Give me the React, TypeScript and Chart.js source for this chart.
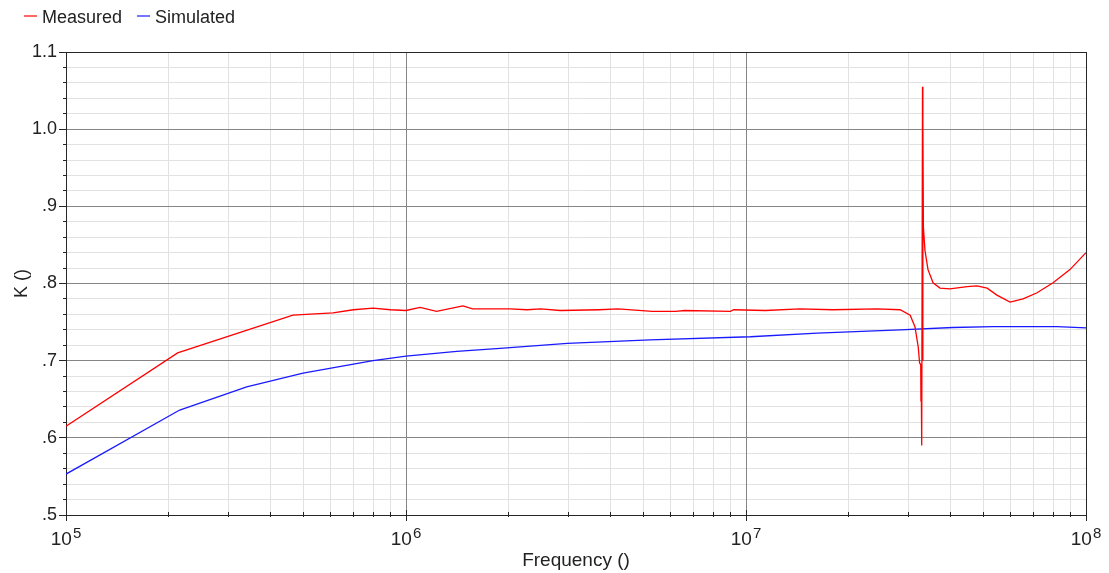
import React, { useEffect, useRef } from 'react';
import { Chart, registerables } from 'chart.js';

Chart.register(...registerables);

// ---------- data ----------
const seriesLabels = ['Measured', 'Simulated'];
const seriesColors = ['#ff0000', '#1a1aff'];

const measuredFreq = [
  1e5, 2.13e5, 4.65e5, 6.1e5, 7.0e5, 8.0e5, 9.0e5, 1.0e6, 1.1e6, 1.23e6, 1.47e6, 1.57e6,
  2.02e6, 2.27e6, 2.49e6, 2.84e6, 3.7e6, 4.2e6, 5.3e6, 6.2e6, 6.6e6, 9.0e6, 9.2e6,
  1.14e7, 1.44e7, 1.8e7, 2.43e7, 2.84e7, 3.04e7, 3.14e7, 3.21e7, 3.24e7,
  3.265e7, 3.27e7, 3.275e7, 3.287e7, 3.305e7, 3.31e7, 3.315e7, 3.325e7,
  3.36e7, 3.43e7, 3.55e7, 3.72e7, 3.98e7, 4.47e7, 4.78e7, 5.12e7, 5.47e7, 5.98e7,
  6.53e7, 7.18e7, 8.0e7, 8.97e7, 1e8,
];
const measuredK = [
  0.615, 0.710, 0.759, 0.762, 0.766, 0.768, 0.766, 0.765, 0.769, 0.764, 0.771, 0.767,
  0.767, 0.766, 0.767, 0.765, 0.766, 0.767, 0.764, 0.764, 0.765, 0.764, 0.766,
  0.765, 0.767, 0.766, 0.767, 0.766, 0.759, 0.744, 0.718, 0.697,
  0.695, 0.647, 0.690, 0.590, 1.055, 0.700, 1.012, 0.873,
  0.843, 0.818, 0.801, 0.794, 0.793, 0.796, 0.797, 0.794, 0.785, 0.776,
  0.780, 0.788, 0.801, 0.818, 0.840,
];

const simulatedFreq = [
  1e5, 2.16e5, 3.4e5, 4.98e5, 8.0e5, 1.0e6, 1.41e6, 1.89e6, 2.98e6, 5.22e6,
  1.03e7, 1.62e7, 2.84e7, 4.06e7, 5.32e7, 8.22e7, 1e8,
];
const simulatedK = [
  0.553, 0.636, 0.666, 0.684, 0.700, 0.706, 0.712, 0.716, 0.7225, 0.727,
  0.731, 0.7356, 0.740, 0.743, 0.744, 0.744, 0.7425,
];

// axis ticks
const xDecades = [1e5, 1e6, 1e7, 1e8];
const xExponents = ['5', '6', '7', '8'];
const xMinorMultipliers = [1, 2, 3, 4, 5, 6, 7, 8, 9];
const yMin = 0.5;
const yMax = 1.1;
const yStep = 0.02;
const xTitle = 'Frequency ()';
const yTitle = 'K ()';

const FONT = '"Liberation Sans", Arial, sans-serif';
const TEXT = '#222222';
const MAJOR_GRID = '#858585';
const MINOR_GRID = '#e2e2e2';
const AXIS = '#262626';

const isDecade = (v: number) => Math.abs(Math.log10(v) - Math.round(Math.log10(v))) < 1e-9;
const isYMajor = (v: number) => Math.round(v * 100) % 10 === 0;

const xTickValues: number[] = [];
for (let i = 0; i < xDecades.length - 1; i++) {
  for (const m of xMinorMultipliers) xTickValues.push(m * xDecades[i]);
}
xTickValues.push(xDecades[xDecades.length - 1]);

const yLabel = (v: number) => {
  const c = Math.round(v * 100);
  if (c % 10 !== 0) return '';
  if (c >= 100) return (c / 100).toFixed(1);
  return '.' + String(c / 10);
};

const align = (p: number) => Math.round(p - 0.5) + 0.5;

// draws the major grid lines and the frame above the light minor grid
const majorGridPlugin = {
  id: 'majorGrid',
  beforeDatasetsDraw(chart: any) {
    const { ctx, chartArea: ca } = chart;
    const xs = chart.scales.x;
    const ys = chart.scales.y;
    ctx.save();
    ctx.lineWidth = 1;
    ctx.strokeStyle = MAJOR_GRID;
    ctx.beginPath();
    ys.ticks.forEach((t: any) => {
      if (!isYMajor(t.value)) return;
      const py = align(ys.getPixelForValue(t.value));
      ctx.moveTo(ca.left, py);
      ctx.lineTo(ca.right, py);
    });
    xs.ticks.forEach((t: any) => {
      if (!isDecade(t.value)) return;
      const px = align(xs.getPixelForValue(t.value));
      ctx.moveTo(px, ca.top);
      ctx.lineTo(px, ca.bottom);
    });
    ctx.stroke();
    ctx.strokeStyle = AXIS;
    ctx.strokeRect(align(ca.left), align(ca.top), Math.round(ca.right - ca.left), Math.round(ca.bottom - ca.top));
    ctx.restore();
  },
};

const decorPlugin = {
  id: 'decor',
  afterDraw(chart: any) {
    const { ctx, chartArea: ca } = chart;
    const xs = chart.scales.x;
    const ys = chart.scales.y;
    ctx.save();
    // tick marks
    ctx.strokeStyle = AXIS;
    ctx.lineWidth = 1;
    ctx.beginPath();
    xs.ticks.forEach((t: any) => {
      const px = align(xs.getPixelForValue(t.value));
      const major = isDecade(t.value);
      ctx.moveTo(px, ca.bottom - (major ? 5 : 3));
      ctx.lineTo(px, ca.bottom + (major ? 6 : 2));
    });
    ys.ticks.forEach((t: any) => {
      const py = align(ys.getPixelForValue(t.value));
      const major = isYMajor(t.value);
      ctx.moveTo(ca.left - (major ? 7 : 3), py);
      ctx.lineTo(ca.left, py);
    });
    ctx.stroke();

    // x decade labels with superscript exponents
    ctx.fillStyle = TEXT;
    ctx.textBaseline = 'alphabetic';
    ctx.textAlign = 'left';
    xDecades.forEach((v, i) => {
      const px = xs.getPixelForValue(v);
      ctx.font = `19px ${FONT}`;
      const wBase = ctx.measureText('10').width;
      ctx.font = `15px ${FONT}`;
      const wExp = ctx.measureText(xExponents[i]).width;
      const start = px - (wBase + wExp + 1) / 2;
      ctx.font = `19px ${FONT}`;
      ctx.fillText('10', start, ca.bottom + 30);
      ctx.font = `15px ${FONT}`;
      ctx.fillText(xExponents[i], start + wBase + 1, ca.bottom + 23);
    });

    // legend
    let x = 24;
    const ly = 16;
    chart.data.datasets.forEach((ds: any) => {
      ctx.strokeStyle = ds.borderColor;
      ctx.lineWidth = 1.5;
      ctx.globalAlpha = 0.8;
      ctx.beginPath();
      ctx.moveTo(x, ly);
      ctx.lineTo(x + 13, ly);
      ctx.stroke();
      ctx.globalAlpha = 1;
      ctx.font = `18px ${FONT}`;
      ctx.fillStyle = TEXT;
      ctx.fillText(ds.label, x + 18, 23);
      x += 18 + ctx.measureText(ds.label).width + 15;
    });
    ctx.restore();
  },
};

export default function App() {
  const canvasRef = useRef<HTMLCanvasElement | null>(null);

  useEffect(() => {
    document.body.style.margin = '0';
    const canvas = canvasRef.current;
    if (!canvas) return;
    const chart = new Chart(canvas, {
      type: 'line',
      data: {
        datasets: [
          {
            label: seriesLabels[0],
            data: measuredFreq.map((f, i) => ({ x: f, y: measuredK[i] })),
            borderColor: seriesColors[0],
            backgroundColor: seriesColors[0],
            borderWidth: 1.3,
            pointRadius: 0,
            tension: 0,
          },
          {
            label: seriesLabels[1],
            data: simulatedFreq.map((f, i) => ({ x: f, y: simulatedK[i] })),
            borderColor: seriesColors[1],
            backgroundColor: seriesColors[1],
            borderWidth: 1.3,
            pointRadius: 0,
            tension: 0,
          },
        ],
      },
      options: {
        responsive: false,
        animation: false,
        devicePixelRatio: 1,
        layout: { padding: { top: 52, right: 23, left: 0, bottom: 0 } },
        plugins: {
          legend: { display: false },
          tooltip: { enabled: false },
        },
        scales: {
          x: {
            type: 'logarithmic',
            min: xDecades[0],
            max: xDecades[xDecades.length - 1],
            afterBuildTicks: (scale: any) => {
              scale.ticks = xTickValues.map((v) => ({ value: v }));
            },
            afterFit: (scale: any) => {
              scale.height = 58;
            },
            ticks: { autoSkip: false, maxRotation: 0, callback: () => '' },
            grid: { drawTicks: false, color: MINOR_GRID },
            border: { display: true, color: AXIS, width: 1 },
            title: {
              display: true,
              text: xTitle,
              color: TEXT,
              font: { family: FONT, size: 19 },
              padding: { top: 0, bottom: 1 },
            },
          },
          y: {
            type: 'linear',
            min: yMin,
            max: yMax,
            afterFit: (scale: any) => {
              scale.width = 66;
            },
            ticks: {
              stepSize: yStep,
              autoSkip: false,
              padding: 9,
              color: TEXT,
              font: { family: FONT, size: 18 },
              callback: (v: any) => yLabel(Number(v)),
            },
            grid: { drawTicks: false, color: MINOR_GRID },
            border: { display: true, color: AXIS, width: 1 },
            title: {
              display: true,
              text: yTitle,
              color: TEXT,
              font: { family: FONT, size: 18 },
              padding: { top: 11, bottom: 0 },
            },
          },
        },
      } as any,
      plugins: [majorGridPlugin, decorPlugin],
    });
    return () => chart.destroy();
  }, []);

  return (
    <div style={{ width: 1109, height: 573 }}>
      <canvas ref={canvasRef} width={1109} height={573} style={{ display: 'block' }} />
    </div>
  );
}
